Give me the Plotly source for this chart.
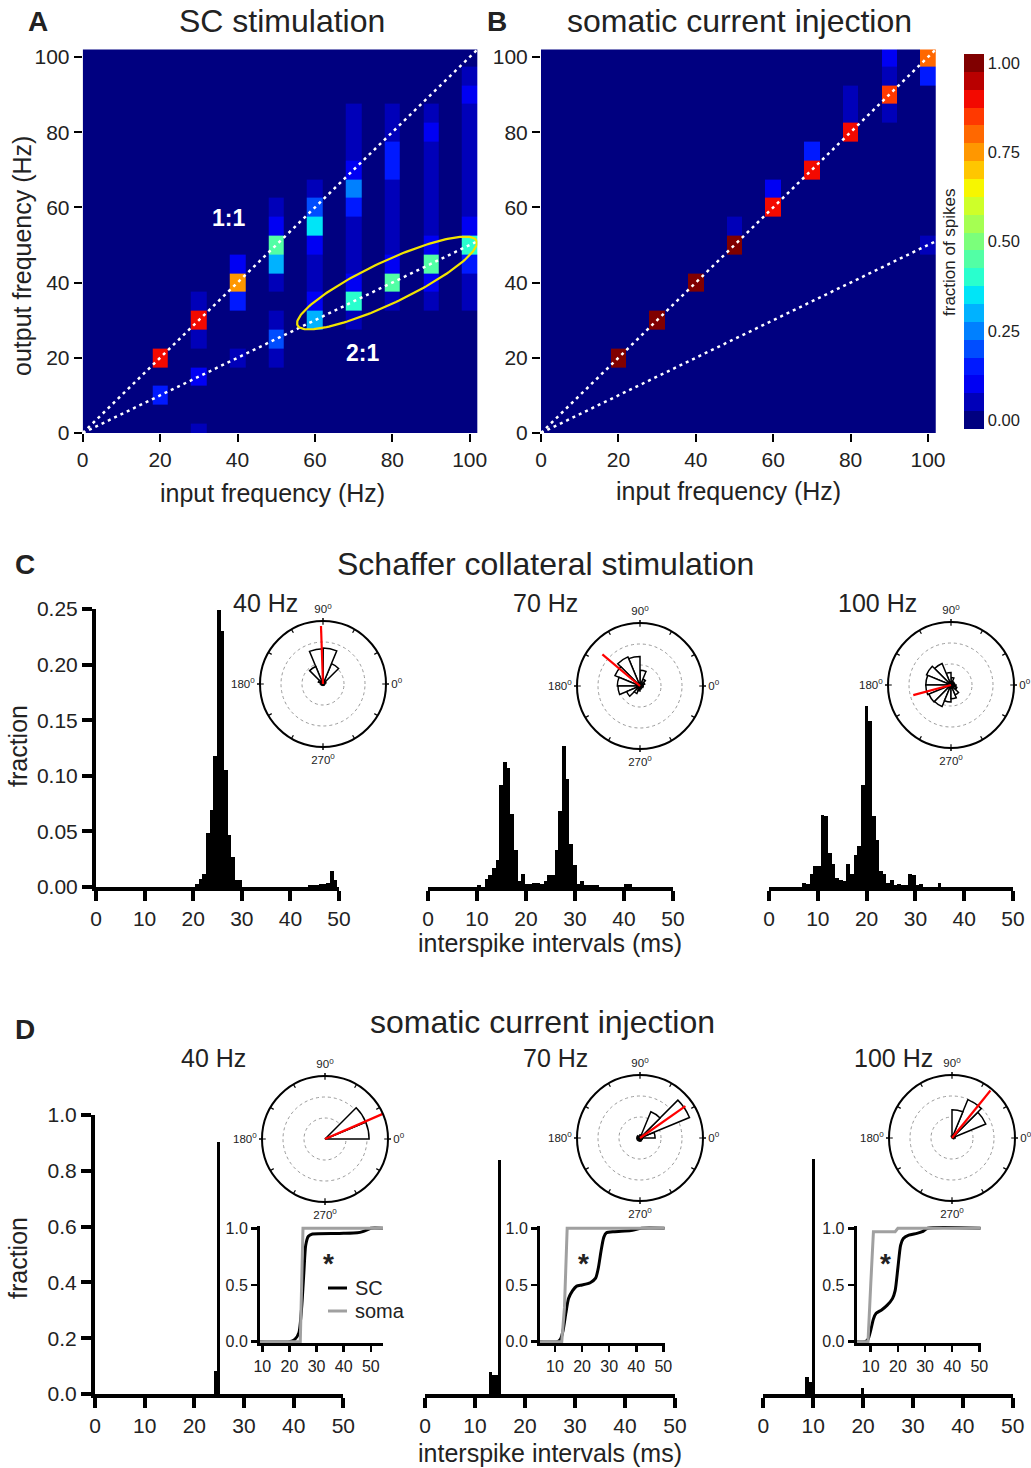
import numpy as np
import plotly.graph_objects as go

W, H = 1031, 1468
FONT = "Liberation Sans, Arial, Helvetica, sans-serif"
INK = "#222222"

# ---------------- Panels A / B : output vs input frequency ----------------
input_freqs = [20, 30, 40, 50, 60, 70, 80, 90, 100]
output_freqs = [0, 5, 10, 15, 20, 25, 30, 35, 40, 45, 50,
                55, 60, 65, 70, 75, 80, 85, 90, 95, 100]

# fraction of spikes per output-frequency bin; one row per input frequency
sc_fraction = [
    [0, 0, .15, 0, .90, 0, 0, 0, 0, 0, 0, 0, 0, 0, 0, 0, 0, 0, 0, 0, 0],
    [.03, 0, 0, .08, 0, .04, .90, .03, 0, 0, 0, 0, 0, 0, 0, 0, 0, 0, 0, 0, 0],
    [0, 0, 0, 0, .06, 0, 0, .15, .75, .12, 0, 0, 0, 0, 0, 0, 0, 0, 0, 0, 0],
    [0, 0, 0, 0, .03, .18, .05, 0, .06, .30, .45, .12, .04, 0, 0, 0, 0, 0, 0, 0, 0],
    [0, 0, 0, 0, 0, 0, .28, .10, .04, .05, .12, .35, .22, .05, 0, 0, 0, 0, 0, 0, 0],
    [0, 0, 0, 0, 0, 0, .05, .40, .12, .04, .04, .04, .15, .25, .12, .05, .03, .03, 0, 0, 0],
    [0, 0, 0, 0, 0, 0, 0, .04, .45, .10, .04, .03, .04, .06, .15, .15, .06, .03, 0, 0, 0],
    [0, 0, 0, 0, 0, 0, 0, .03, .10, .47, .12, .04, .04, .04, .04, .05, .10, .07, 0, 0, 0],
    [0, 0, 0, 0, 0, 0, 0, .05, .03, .15, .40, .12, .05, .03, .03, .03, .03, .05, .10, .05, 0],
]
soma_fraction = [
    [0, 0, 0, 0, 1.0, 0, 0, 0, 0, 0, 0, 0, 0, 0, 0, 0, 0, 0, 0, 0, 0],
    [0, 0, 0, 0, 0, 0, 1.0, 0, 0, 0, 0, 0, 0, 0, 0, 0, 0, 0, 0, 0, 0],
    [0, 0, 0, 0, 0, 0, 0, 0, 1.0, 0, 0, 0, 0, 0, 0, 0, 0, 0, 0, 0, 0],
    [0, 0, 0, 0, 0, 0, 0, 0, 0, 0, 1.0, .03, 0, 0, 0, 0, 0, 0, 0, 0, 0],
    [0, 0, 0, 0, 0, 0, 0, 0, 0, 0, 0, 0, .92, .08, 0, 0, 0, 0, 0, 0, 0],
    [0, 0, 0, 0, 0, 0, 0, 0, 0, 0, 0, 0, 0, 0, .88, .13, 0, 0, 0, 0, 0],
    [0, 0, 0, 0, 0, 0, 0, 0, 0, 0, 0, 0, 0, 0, 0, 0, .90, .06, .06, 0, 0],
    [0, 0, 0, 0, 0, 0, 0, 0, 0, 0, 0, 0, 0, 0, 0, 0, 0, .04, .87, .04, .10],
    [0, 0, 0, 0, 0, 0, 0, 0, 0, 0, .04, 0, 0, 0, 0, 0, 0, 0, 0, .13, .80],
]
freq_ticks = [0, 20, 40, 60, 80, 100]
fraction_ticks = [0.0, 0.25, 0.5, 0.75, 1.0]
line_ratios = [1.0, 0.5]          # 1:1 and 2:1 reference lines (output = ratio * input)

# ---------------- Panel C : Schaffer collateral ISI histograms ----------------
c40_isi = [20.75, 21.5, 22.25, 23.0, 23.75, 24.5, 25.25, 26.0, 26.75, 27.5, 28.25, 29.0, 29.75,
           44.0, 44.75, 45.5, 46.25, 47.0, 47.75, 48.5, 49.25]
c40_frac = [.0024, .007, .012, .049, .069, .118, .249, .230, .105, .047, .027, .006, .006,
            .002, .002, .002, .003, .003, .004, .014, .006]

c70_isi = [10.45, 11.95, 12.7, 13.45, 14.2, 14.95, 15.7, 16.45, 17.2, 17.95, 18.7, 19.45, 20.2,
           20.95, 21.7, 22.45, 23.2, 23.95, 24.7, 25.45, 26.2, 26.95, 27.7, 28.45, 29.2, 29.95,
           30.7, 31.45, 32.2, 32.95, 33.7, 34.45, 40.45, 41.2]
c70_frac = [.002, .007, .011, .017, .024, .092, .112, .107, .066, .033, .005, .012, .003,
            .003, .004, .004, .003, .005, .011, .011, .033, .068, .127, .097, .039, .020,
            .003, .005, .002, .002, .002, .002, .003, .003]

c100_isi = [7.2, 7.95, 8.7, 9.45, 10.2, 10.95, 11.7, 12.45, 13.2, 13.95, 14.7, 15.45, 16.2,
            16.95, 17.7, 18.45, 19.2, 19.95, 20.7, 21.45, 22.2, 22.95, 23.7, 24.45, 25.2,
            25.95, 26.7, 27.45, 28.2, 28.95, 29.7, 30.45, 31.2, 34.95]
c100_frac = [.004, .0024, .012, .019, .019, .065, .064, .031, .021, .008, .006, .005, .021,
             .012, .029, .037, .092, .163, .149, .064, .042, .014, .012, .004, .006,
             .002, .003, .002, .002, .012, .011, .002, .003, .004]

# ---------------- Panel D : somatic current injection ISI histograms ----------------
d40_isi = [24.35, 24.95]
d40_frac = [0.082, 0.904]
d70_isi = [13.1, 13.7, 14.3, 14.85]
d70_frac = [0.080, 0.068, 0.068, 0.839]
d100_isi = [8.75, 9.45, 10.1, 19.9]
d100_frac = [0.061, 0.044, 0.842, 0.022]

# cumulative ISI distributions (insets of D)
cdf40_isi_sc = [9.15, 20, 22, 23.5, 24.5, 25.3, 26, 27, 28.5, 40, 45, 47, 49, 50, 54.5]
cdf40_sc = [0, 0, .02, .08, .30, .60, .85, .93, .95, .955, .96, .97, .99, 1.0, 1.0]
cdf40_isi_soma = [9.15, 24, 24.5, 25, 54.5]
cdf40_soma = [0, 0, .5, 1.0, 1.0]

cdf70_isi_sc = [4.47, 11, 12, 13, 14, 15, 16.5, 18, 20, 23, 25, 26, 27, 28, 29, 32, 38, 42, 50.5]
cdf70_sc = [0, 0, .02, .10, .25, .38, .45, .49, .50, .52, .56, .65, .80, .92, .96, .97, .98, 1.0, 1.0]
cdf70_isi_soma = [4.47, 12.5, 13.5, 14.5, 50.5]
cdf70_soma = [0, 0, .3, 1.0, 1.0]

cdf100_isi_sc = [4.84, 8, 9, 10, 11, 12, 14, 16, 18, 19, 20, 21, 22, 24, 27, 29, 31, 50.5]
cdf100_sc = [0, 0, .02, .10, .20, .25, .28, .32, .38, .45, .65, .85, .91, .94, .955, .97, 1.0, 1.0]
cdf100_isi_soma = [4.84, 9, 10, 11, 19, 20, 50.5]
cdf100_soma = [0, 0, .5, .97, .97, 1.0, 1.0]

# ---------------- phase histograms (rose plots) ----------------
phase_bins = [11.25, 33.75, 56.25, 78.75, 101.25, 123.75, 146.25, 168.75,
              191.25, 213.75, 236.25, 258.75, 281.25, 303.75, 326.25, 348.75]
rose_c40 = [.03, .05, .35, .57, .56, .30, .08, .04, .03, .02, .02, .02, .02, .02, .02, .02]
rose_c70 = [.05, .08, .12, .25, .47, .50, .43, .36, .35, .23, .13, .08, .05, .04, .04, .05]
rose_c100 = [.06, .05, .06, .12, .20, .37, .42, .40, .40, .38, .37, .27, .22, .17, .10, .08]
rose_d40 = [.70, .70, 0, 0, 0, 0, 0, 0, 0, 0, 0, 0, 0, 0, 0, 0]
rose_d70 = [.24, .85, .45, .05, .03, .03, .05, .04, .05, .04, .05, .04, .05, .04, .03, .04]
rose_d100 = [.05, .58, .66, .45, .03, 0, 0, 0, 0, 0, 0, 0, 0, 0, 0, .03]
mean_phase = [92, 140, 195, 23.5, 35, 51]          # C40, C70, C100, D40, D70, D100 (deg)
vector_strength = [0.92, 0.78, 0.62, 1.0, 0.88, 0.97]
phase_labels = [0, 90, 180, 270]


# ======================= helpers =======================
def px_x(a, b):
    return [a / W, b / W]


def px_y(top, bottom):
    return [1 - bottom / H, 1 - top / H]


def jet(v):
    r = np.interp(v, [0, 0.35, 0.66, 0.89, 1], [0, 0, 1, 1, 0.5])
    g = np.interp(v, [0, 0.125, 0.375, 0.64, 0.91, 1], [0, 0, 1, 1, 0, 0])
    b = np.interp(v, [0, 0.11, 0.34, 0.65, 1], [0.5, 1, 1, 0, 0])
    return "rgb(%d,%d,%d)" % (round(r * 255), round(g * 255), round(b * 255))


NLEV = 21
colorscale = []
for k in range(NLEV):
    c = jet(k / (NLEV - 1))
    colorscale.append([k / NLEV, c])
    colorscale.append([(k + 1) / NLEV, c])

# heat-map bricks: narrow column at each input frequency, zero elsewhere
x_edges = [0]
for f in input_freqs:
    x_edges += [f - 2, f + 2]
y_edges = [o - 2.5 for o in output_freqs] + [output_freqs[-1] + 2.5]


def brick_z(frac):
    z = np.zeros((len(output_freqs), len(x_edges) - 1))
    for i, row in enumerate(frac):
        z[:, 2 * i + 1] = row
    return z


fig = go.Figure()

# ---- A ----
fig.add_trace(go.Heatmap(x=x_edges, y=y_edges, z=brick_z(sc_fraction), zmin=-0.025, zmax=1.025,
                         colorscale=colorscale, showscale=False, xaxis="x", yaxis="y",
                         hoverinfo="skip"))
# ---- B ----
fig.add_trace(go.Heatmap(x=x_edges, y=y_edges, z=brick_z(soma_fraction), zmin=-0.025, zmax=1.025,
                         colorscale=colorscale, xaxis="x2", yaxis="y2", hoverinfo="skip",
                         colorbar=dict(x=964 / W, xanchor="left", y=1 - 241.5 / H, yanchor="middle",
                                       len=375 / H, lenmode="fraction", thickness=20,
                                       outlinewidth=0, xpad=0, ypad=0,
                                       tickvals=fraction_ticks,
                                       ticktext=["%.2f" % t for t in fraction_ticks],
                                       ticks="", tickfont=dict(size=16.5, color=INK))))

for xa, ya in (("x", "y"), ("x2", "y2")):
    for r in line_ratios:
        fig.add_trace(go.Scatter(x=[0, 102], y=[0, 102 * r], mode="lines", xaxis=xa, yaxis=ya,
                                 line=dict(color="white", width=2.5, dash="3px,4px"),
                                 hoverinfo="skip"))

# yellow ellipse around the 2:1 responses (drawn in pixel space, converted to data units)
ax_px0, ax_py0, ax_sx, ax_sy = 82.7, 433.0, 3.87, 3.76
ecx, ecy, ea, eb, ephi = 387.0, 283.0, 99.0, 21.0, np.radians(25.3)
t = np.linspace(0, 2 * np.pi, 181)
ex_px = ecx + ea * np.cos(t) * np.cos(ephi) - eb * np.sin(t) * np.sin(ephi)
ey_px = ecy - (ea * np.cos(t) * np.sin(ephi) + eb * np.sin(t) * np.cos(ephi))
fig.add_trace(go.Scatter(x=(ex_px - ax_px0) / ax_sx, y=(ax_py0 - ey_px) / ax_sy, mode="lines",
                         line=dict(color="#F2E400", width=2.2), xaxis="x", yaxis="y",
                         hoverinfo="skip"))

# ---- C and D histograms ----
hists = [
    ("x3", "y3", c40_isi, c40_frac, 0.75),
    ("x4", "y4", c70_isi, c70_frac, 0.75),
    ("x5", "y5", c100_isi, c100_frac, 0.75),
    ("x6", "y6", d40_isi, d40_frac, 0.62),
    ("x7", "y7", d70_isi, d70_frac, 0.62),
    ("x8", "y8", d100_isi, d100_frac, 0.66),
]
for xa, ya, xs, ys, w in hists:
    fig.add_trace(go.Bar(x=xs, y=ys, width=w, marker=dict(color="black", line=dict(width=0)),
                         xaxis=xa, yaxis=ya, hoverinfo="skip"))

# ---- cumulative insets ----
cdfs = [
    ("x9", "y9", cdf40_isi_sc, cdf40_sc, cdf40_isi_soma, cdf40_soma),
    ("x10", "y10", cdf70_isi_sc, cdf70_sc, cdf70_isi_soma, cdf70_soma),
    ("x11", "y11", cdf100_isi_sc, cdf100_sc, cdf100_isi_soma, cdf100_soma),
]
for xa, ya, xsc, ysc, xso, yso in cdfs:
    fig.add_trace(go.Scatter(x=xsc, y=ysc, mode="lines", line=dict(color="black", width=3,
                             shape="spline", smoothing=0.6), xaxis=xa, yaxis=ya, hoverinfo="skip"))
    fig.add_trace(go.Scatter(x=xso, y=yso, mode="lines", line=dict(color="#a0a0a0", width=3),
                             xaxis=xa, yaxis=ya, hoverinfo="skip"))

# ---- rose plots ----
roses = [rose_c40, rose_c70, rose_c100, rose_d40, rose_d70, rose_d100]
polar_centers = [(323, 684), (640, 686), (951, 685), (325, 1139), (640, 1138), (952, 1138)]
# small inward tick marks every 30 degrees on the outer circle
tick_r, tick_t = [], []
for a in range(0, 360, 30):
    tick_r += [0.94, 1.0, None]
    tick_t += [a, a, None]
for i, rr in enumerate(roses):
    sp = "polar" if i == 0 else "polar%d" % (i + 1)
    fig.add_trace(go.Barpolar(r=rr, theta=phase_bins, width=[22.5] * len(phase_bins),
                              marker=dict(color="white", line=dict(color="black", width=1.5)),
                              subplot=sp, hoverinfo="skip"))
    fig.add_trace(go.Scatterpolar(r=tick_r, theta=tick_t, mode="lines", connectgaps=False,
                                  line=dict(color="black", width=1.2), subplot=sp,
                                  hoverinfo="skip"))
    fig.add_trace(go.Scatterpolar(r=[0, vector_strength[i]], theta=[mean_phase[i]] * 2,
                                  mode="lines", line=dict(color="red", width=2.2),
                                  subplot=sp, hoverinfo="skip"))

# ======================= layout =======================
layout = dict(width=W, height=H, autosize=False, template="none",
              margin=dict(l=0, r=0, t=0, b=0, pad=0, autoexpand=False),
              paper_bgcolor="white", plot_bgcolor="white", showlegend=False,
              font=dict(family=FONT, color=INK), bargap=0)

heat_common = dict(range=[0, 102], tickvals=freq_ticks, ticks="outside", ticklen=8, tickwidth=2,
                   tickcolor="black", showline=False, showgrid=False, zeroline=False,
                   tickfont=dict(size=21, color=INK), fixedrange=True, automargin=False)
layout["xaxis"] = dict(heat_common, domain=px_x(82.7, 82.7 + 102 * 3.87), anchor="y")
layout["yaxis"] = dict(heat_common, domain=px_y(433 - 102 * 3.76, 433), anchor="x")
layout["xaxis2"] = dict(heat_common, domain=px_x(541, 541 + 102 * 3.87), anchor="y2")
layout["yaxis2"] = dict(heat_common, domain=px_y(433 - 102 * 3.76, 433), anchor="x2")

hist_x = dict(range=[0, 50], tickvals=[0, 10, 20, 30, 40, 50], ticks="outside", ticklen=10,
              tickwidth=4, tickcolor="black", showline=True, linewidth=4, linecolor="black",
              showgrid=False, zeroline=False, tickfont=dict(size=21, color=INK), fixedrange=True,
              automargin=False)
hist_y_vis = dict(ticks="outside", ticklen=10, tickwidth=4, tickcolor="black", showline=True,
                  linewidth=4, linecolor="black", showgrid=False, zeroline=False,
                  tickfont=dict(size=21, color=INK), fixedrange=True, automargin=False)
hist_y_hid = dict(showline=False, showticklabels=False, ticks="", showgrid=False,
                  zeroline=False, fixedrange=True, automargin=False)

c_xdom = [(96, 339), (428, 673), (769, 1013)]
c_ydom = px_y(609, 887)
for j, (a, b) in enumerate(c_xdom):
    n = 3 + j
    layout["xaxis%d" % n] = dict(hist_x, domain=px_x(a, b), anchor="y%d" % n)
    ycfg = dict(hist_y_vis if j == 0 else hist_y_hid, range=[0, 0.25], domain=c_ydom,
                anchor="x%d" % n)
    if j == 0:
        ycfg.update(tickvals=[0, .05, .10, .15, .20, .25], tickformat=".2f")
    layout["yaxis%d" % n] = ycfg

d_xdom = [(95, 343.3), (425, 675), (763.3, 1012.7)]
d_ydom = px_y(1115, 1394)
for j, (a, b) in enumerate(d_xdom):
    n = 6 + j
    layout["xaxis%d" % n] = dict(hist_x, domain=px_x(a, b), anchor="y%d" % n)
    ycfg = dict(hist_y_vis if j == 0 else hist_y_hid, range=[0, 1.0], domain=d_ydom,
                anchor="x%d" % n)
    if j == 0:
        ycfg.update(tickvals=[0, .2, .4, .6, .8, 1.0], tickformat=".1f")
    layout["yaxis%d" % n] = ycfg

inset_common = dict(ticks="outside", ticklen=6, tickwidth=2.5, tickcolor="black", showline=True,
                    linewidth=3, linecolor="black", showgrid=False, zeroline=False,
                    tickfont=dict(size=16, color=INK), fixedrange=True, automargin=False)
inset_dom = [((260, 383), (9.15, 54.5)), ((540, 664.7), (4.47, 50.5)), ((856.7, 980.7), (4.84, 50.5))]
for j, ((a, b), rng) in enumerate(inset_dom):
    n = 9 + j
    layout["xaxis%d" % n] = dict(inset_common, domain=px_x(a, b), range=list(rng),
                                 tickvals=[10, 20, 30, 40, 50], anchor="y%d" % n)
    layout["yaxis%d" % n] = dict(inset_common, domain=px_y(1226, 1343.4), range=[-0.015, 1.02],
                                 tickvals=[0, 0.5, 1.0], tickformat=".1f", anchor="x%d" % n)

ang_text = ["%d<sup>0</sup>" % a for a in phase_labels]
R = 63
for i, (cx, cy) in enumerate(polar_centers):
    key = "polar" if i == 0 else "polar%d" % (i + 1)
    layout[key] = dict(
        domain=dict(x=[(cx - R) / W, (cx + R) / W], y=[1 - (cy + R) / H, 1 - (cy - R) / H]),
        bgcolor="white",
        radialaxis=dict(range=[0, 1], tickvals=[1 / 3, 2 / 3], showticklabels=False, ticks="",
                        showline=False, gridcolor="#9a9a9a", griddash="dot", gridwidth=1),
        angularaxis=dict(rotation=0, direction="counterclockwise", showline=True,
                         linecolor="black", linewidth=2, showgrid=False, tickvals=phase_labels,
                         ticktext=ang_text, ticks="outside", ticklen=2, tickwidth=1.5,
                         tickcolor="black", tickfont=dict(size=11.5, color=INK)))

annotations = []


def ann(text, px, py, size, bold=False, color=INK, angle=0, xanchor="center", **kw):
    annotations.append(dict(text=("<b>%s</b>" % text) if bold else text, x=px / W, y=1 - py / H,
                            xref="paper", yref="paper", showarrow=False, textangle=angle,
                            xanchor=xanchor, yanchor="middle",
                            font=dict(size=size, color=color, family=FONT), **kw))


ann("A", 38, 22, 28, bold=True)
ann("SC stimulation", 282, 21, 32)
ann("B", 497, 22, 28, bold=True)
ann("somatic current injection", 739, 21, 32)
ann("output frequency (Hz)", 22, 256, 25, angle=-90)
ann("input frequency (Hz)", 272, 493, 25)
ann("input frequency (Hz)", 728, 491, 25)
ann("fraction of spikes", 950, 252, 17, angle=-90)
ann("C", 25, 564, 28, bold=True)
ann("Schaffer collateral stimulation", 545, 564, 32)
for txt, x in (("40 Hz", 265), ("70 Hz", 545), ("100 Hz", 877)):
    ann(txt, x, 603, 25)
ann("fraction", 18, 746, 25, angle=-90)
ann("interspike intervals (ms)", 550, 943, 25)
ann("D", 25, 1029, 28, bold=True)
ann("somatic current injection", 542, 1022, 32)
for txt, x in (("40 Hz", 213), ("70 Hz", 555), ("100 Hz", 893)):
    ann(txt, x, 1058, 25)
ann("fraction", 18, 1258, 25, angle=-90)
ann("interspike intervals (ms)", 550, 1453, 25)
for x in (328, 583, 885):
    ann("*", x, 1263, 28, bold=True)
ann("SC", 353, 1288, 20, xanchor="left")
ann("soma", 353, 1311, 20, xanchor="left")
# 1:1 and 2:1 labels inside panel A (data coordinates)
annotations.append(dict(text="<b>1:1</b>", x=37.6, y=57.2, xref="x", yref="y", showarrow=False,
                        font=dict(size=23, color="white", family=FONT)))
annotations.append(dict(text="<b>2:1</b>", x=72.4, y=21.3, xref="x", yref="y", showarrow=False,
                        font=dict(size=23, color="white", family=FONT)))
layout["annotations"] = annotations

layout["shapes"] = [
    dict(type="line", xref="paper", yref="paper", x0=328 / W, x1=347 / W,
         y0=1 - 1288 / H, y1=1 - 1288 / H, line=dict(color="black", width=3)),
    dict(type="line", xref="paper", yref="paper", x0=328 / W, x1=347 / W,
         y0=1 - 1311 / H, y1=1 - 1311 / H, line=dict(color="#a0a0a0", width=3)),
]

fig.update_layout(layout)
fig.write_html("out.html", config={"displayModeBar": False, "staticPlot": True},
               post_script="document.body.style.margin='0px';document.body.style.padding='0px';")
